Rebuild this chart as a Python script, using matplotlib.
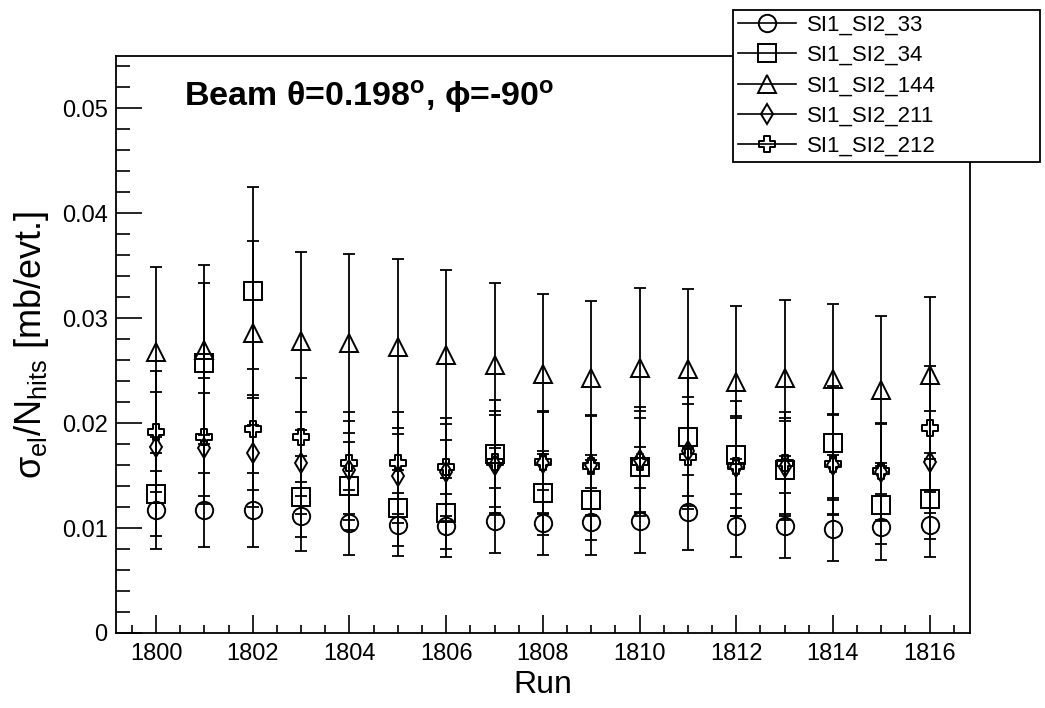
import numpy as np
import matplotlib
matplotlib.use('Agg')
import matplotlib.pyplot as plt
from matplotlib.path import Path
from matplotlib.lines import Line2D
from matplotlib.ticker import MultipleLocator

plt.rcParams['font.family'] = ['Liberation Sans', 'DejaVu Sans']
plt.rcParams['mathtext.fontset'] = 'custom'
plt.rcParams['mathtext.rm'] = 'Liberation Sans'
plt.rcParams['mathtext.it'] = 'Liberation Sans:italic'
plt.rcParams['mathtext.bf'] = 'Liberation Sans:bold'

runs = np.arange(1800, 1817)

# sigma_el / N_hits per detector pair, with errors
val_33 = [0.0117, 0.0117, 0.0117, 0.0111, 0.0105, 0.0103, 0.0102, 0.0107, 0.0105,
          0.0106, 0.0107, 0.0115, 0.0102, 0.0102, 0.0099, 0.0101, 0.0103]
err_33 = [0.0037, 0.0035, 0.0035, 0.0033, 0.0031, 0.0030, 0.0030, 0.0031, 0.0031,
          0.0032, 0.0031, 0.0036, 0.0030, 0.0031, 0.0030, 0.0031, 0.0031]

val_34 = [0.0132, 0.0257, 0.0326, 0.0130, 0.0140, 0.0119, 0.0114, 0.0171, 0.0133,
          0.0127, 0.0158, 0.0187, 0.0170, 0.0155, 0.0181, 0.0122, 0.0128]
err_34 = [0.0040, 0.0077, 0.0099, 0.0039, 0.0042, 0.0036, 0.0034, 0.0051, 0.0040,
          0.0038, 0.0047, 0.0056, 0.0051, 0.0047, 0.0054, 0.0037, 0.0038]

val_144 = [0.0268, 0.0270, 0.0286, 0.0278, 0.0276, 0.0273, 0.0265, 0.0255, 0.0247,
           0.0243, 0.0253, 0.0252, 0.0239, 0.0243, 0.0242, 0.0232, 0.0246]
err_144 = [0.0081, 0.0081, 0.0088, 0.0085, 0.0085, 0.0083, 0.0081, 0.0079, 0.0076,
           0.0073, 0.0076, 0.0076, 0.0073, 0.0074, 0.0072, 0.0070, 0.0074]

val_211 = [0.0177, 0.0176, 0.0172, 0.0162, 0.0155, 0.0150, 0.0153, 0.0160, 0.0162,
           0.0160, 0.0165, 0.0173, 0.0158, 0.0158, 0.0160, 0.0153, 0.0163]
err_211 = [0.0053, 0.0053, 0.0052, 0.0049, 0.0047, 0.0045, 0.0046, 0.0048, 0.0049,
           0.0048, 0.0050, 0.0052, 0.0047, 0.0047, 0.0048, 0.0046, 0.0049]

val_212 = [0.0192, 0.0187, 0.0194, 0.0187, 0.0162, 0.0162, 0.0158, 0.0163, 0.0163,
           0.0159, 0.0163, 0.0168, 0.0159, 0.0162, 0.0161, 0.0154, 0.0195]
err_212 = [0.0058, 0.0056, 0.0058, 0.0056, 0.0049, 0.0049, 0.0047, 0.0049, 0.0049,
           0.0048, 0.0049, 0.0050, 0.0048, 0.0049, 0.0048, 0.0046, 0.0059]

labels = ['SI1_SI2_33', 'SI1_SI2_34', 'SI1_SI2_144', 'SI1_SI2_211', 'SI1_SI2_212']

# open cross marker (ROOT style 28)
a = 0.35
cross = Path([(-a, 1), (a, 1), (a, a), (1, a), (1, -a), (a, -a), (a, -1), (-a, -1),
              (-a, -a), (-1, -a), (-1, a), (-a, a), (-a, 1)], closed=True)

markers = ['o', 's', '^', 'd', cross]
sizes = [12.5, 13, 13.5, 10, 12]
series = [(val_33, err_33), (val_34, err_34), (val_144, err_144),
          (val_211, err_211), (val_212, err_212)]

fig = plt.figure(figsize=(10.45, 7.08), dpi=100)
ax = fig.add_axes([0.111, 0.106, 0.817, 0.815])

for (v, e), m, s in zip(series, markers, sizes):
    ax.errorbar(runs, v, yerr=e, fmt='none', ecolor='k', elinewidth=1.3,
                capsize=4, capthick=1.3)
    ax.plot(runs, v, linestyle='none', marker=m, ms=s, mfc='none', mec='k', mew=1.4)

ax.set_xlim(1799.17, 1816.83)
ax.set_ylim(0, 0.055)
ax.xaxis.set_major_locator(MultipleLocator(2))
ax.xaxis.set_minor_locator(MultipleLocator(0.5))
ax.yaxis.set_major_locator(MultipleLocator(0.01))
ax.yaxis.set_minor_locator(MultipleLocator(0.002))
ax.yaxis.set_major_formatter(plt.FuncFormatter(lambda y, p: '0' if y == 0 else f'{y:.2f}'))

ax.tick_params(axis='both', which='both', direction='in', top=False, right=False,
               labelsize=17, width=1.2)
ax.tick_params(axis='x', which='major', length=13, pad=7)
ax.tick_params(axis='x', which='minor', length=6)
ax.tick_params(axis='y', which='major', length=19, pad=6)
ax.tick_params(axis='y', which='minor', length=10)
for sp in ax.spines.values():
    sp.set_linewidth(1.3)

ax.set_xlabel('Run', fontsize=23, labelpad=4)
ax.set_ylabel(r'σ$_{\mathrm{el}}$/N$_{\mathrm{hits}}$ [mb/evt.]', fontsize=26, labelpad=8)

ax.text(0.08, 0.93, r'Beam θ=0.198$^{\mathbf{o}}$, ϕ=-90$^{\mathbf{o}}$', transform=ax.transAxes,
        fontsize=24.5, fontweight='bold', va='center', ha='left')

handles = [Line2D([], [], color='k', lw=1.2, marker=m, ms=s, mfc='none', mec='k', mew=1.4)
           for m, s in zip(markers, sizes)]
leg = fig.legend(handles, labels, loc='upper left', mode='expand',
                 bbox_to_anchor=(0.7014, 0.771, 0.294, 0.215), borderaxespad=0,
                 fontsize=16, fancybox=False, framealpha=1, edgecolor='k',
                 handlelength=2.6, handletextpad=0.5, labelspacing=0.42,
                 borderpad=0.22)
leg.get_frame().set_linewidth(1.3)

fig.savefig('out.png', dpi=100)
